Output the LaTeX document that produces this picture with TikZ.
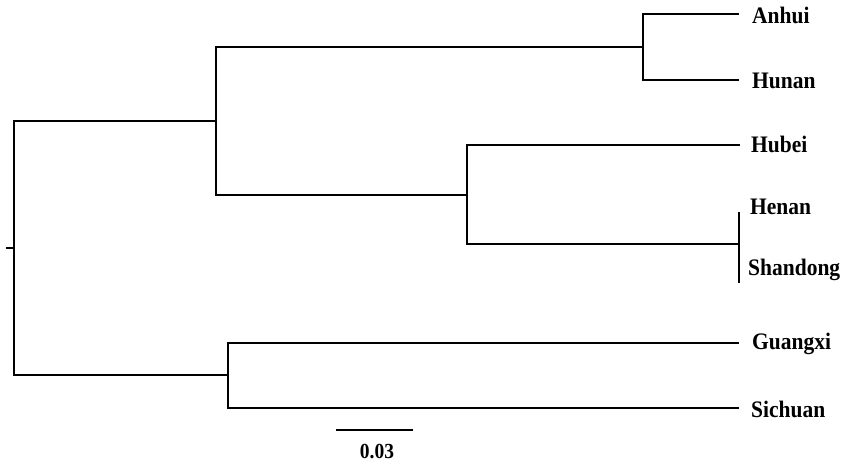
\documentclass[tikz,border=0pt]{standalone}
\usepackage{fontspec}
\setmainfont{Liberation Serif}
\begin{document}
\begin{tikzpicture}[x=1pt,y=-1pt,
  branch/.style={line width=1.8pt, line cap=rect},
  leaf/.style={anchor=west, inner sep=0pt, font=\fontsize{21.5}{24}\selectfont\bfseries},
  scalelabel/.style={inner sep=0pt, font=\fontsize{19.5}{22}\selectfont\bfseries}]
\useasboundingbox (0,0) rectangle (851,464);
% internal nodes
\coordinate (stub) at (7,248);
\coordinate (root) at (14,248);
\coordinate (nA) at (216,121);
\coordinate (nAH) at (643,47);
\coordinate (nHS) at (467,195);
\coordinate (nHeS) at (739,244);
\coordinate (nGS) at (228,375);
% leaf tips
\coordinate (tAnhui) at (738,14);
\coordinate (tHunan) at (738,80);
\coordinate (tHubei) at (739,145);
\coordinate (tHeTop) at (739,212);
\coordinate (tHeBot) at (739,283);
\coordinate (tGuangxi) at (738,343);
\coordinate (tSichuan) at (738,408);
% labels
\node[leaf, yscale=1.1] (Anhui) at (752,15) {Anhui};
\node[leaf, yscale=1.1] (Hunan) at (752,81) {Hunan};
\node[leaf, yscale=1.1] (Hubei) at (751,144) {Hubei};
\node[leaf, yscale=1.1] (Henan) at (750,207) {Henan};
\node[leaf, yscale=1.1] (Shandong) at (748,270) {Shandong};
\node[leaf, yscale=1.1] (Guangxi) at (752,344) {Guangxi};
\node[leaf, yscale=1.1] (Sichuan) at (751,409) {Sichuan};
% branches
\draw[branch] (stub) -- (root);
\draw[branch] (root |- nA) -- (root |- nGS);
\draw[branch] (root |- nA) -- (nA);
\draw[branch] (root |- nGS) -- (nGS);
% top clade
\draw[branch] (nA |- nAH) -- (nA |- nHS);
\draw[branch] (nA |- nAH) -- (nAH);
\draw[branch] (nA |- nHS) -- (nHS);
\draw[branch] (nAH |- tAnhui) -- (nAH |- tHunan);
\draw[branch] (nAH |- tAnhui) -- (tAnhui);
\draw[branch] (nAH |- tHunan) -- (tHunan);
\draw[branch] (nHS |- tHubei) -- (nHS |- nHeS);
\draw[branch] (nHS |- tHubei) -- (tHubei);
\draw[branch] (nHS |- nHeS) -- (nHeS);
\draw[branch, line cap=butt] (tHeTop) -- (tHeBot);
% bottom clade
\draw[branch] (nGS |- tGuangxi) -- (nGS |- tSichuan);
\draw[branch] (nGS |- tGuangxi) -- (tGuangxi);
\draw[branch] (nGS |- tSichuan) -- (tSichuan);
% scale bar
\coordinate (sbL) at (336,430);
\coordinate (sbR) at (413,430);
\draw[branch, line cap=butt] (sbL) -- (sbR);
\node[scalelabel, yscale=1.1] (sblabel) at (377,452) {0.03};
\end{tikzpicture}
\end{document}
